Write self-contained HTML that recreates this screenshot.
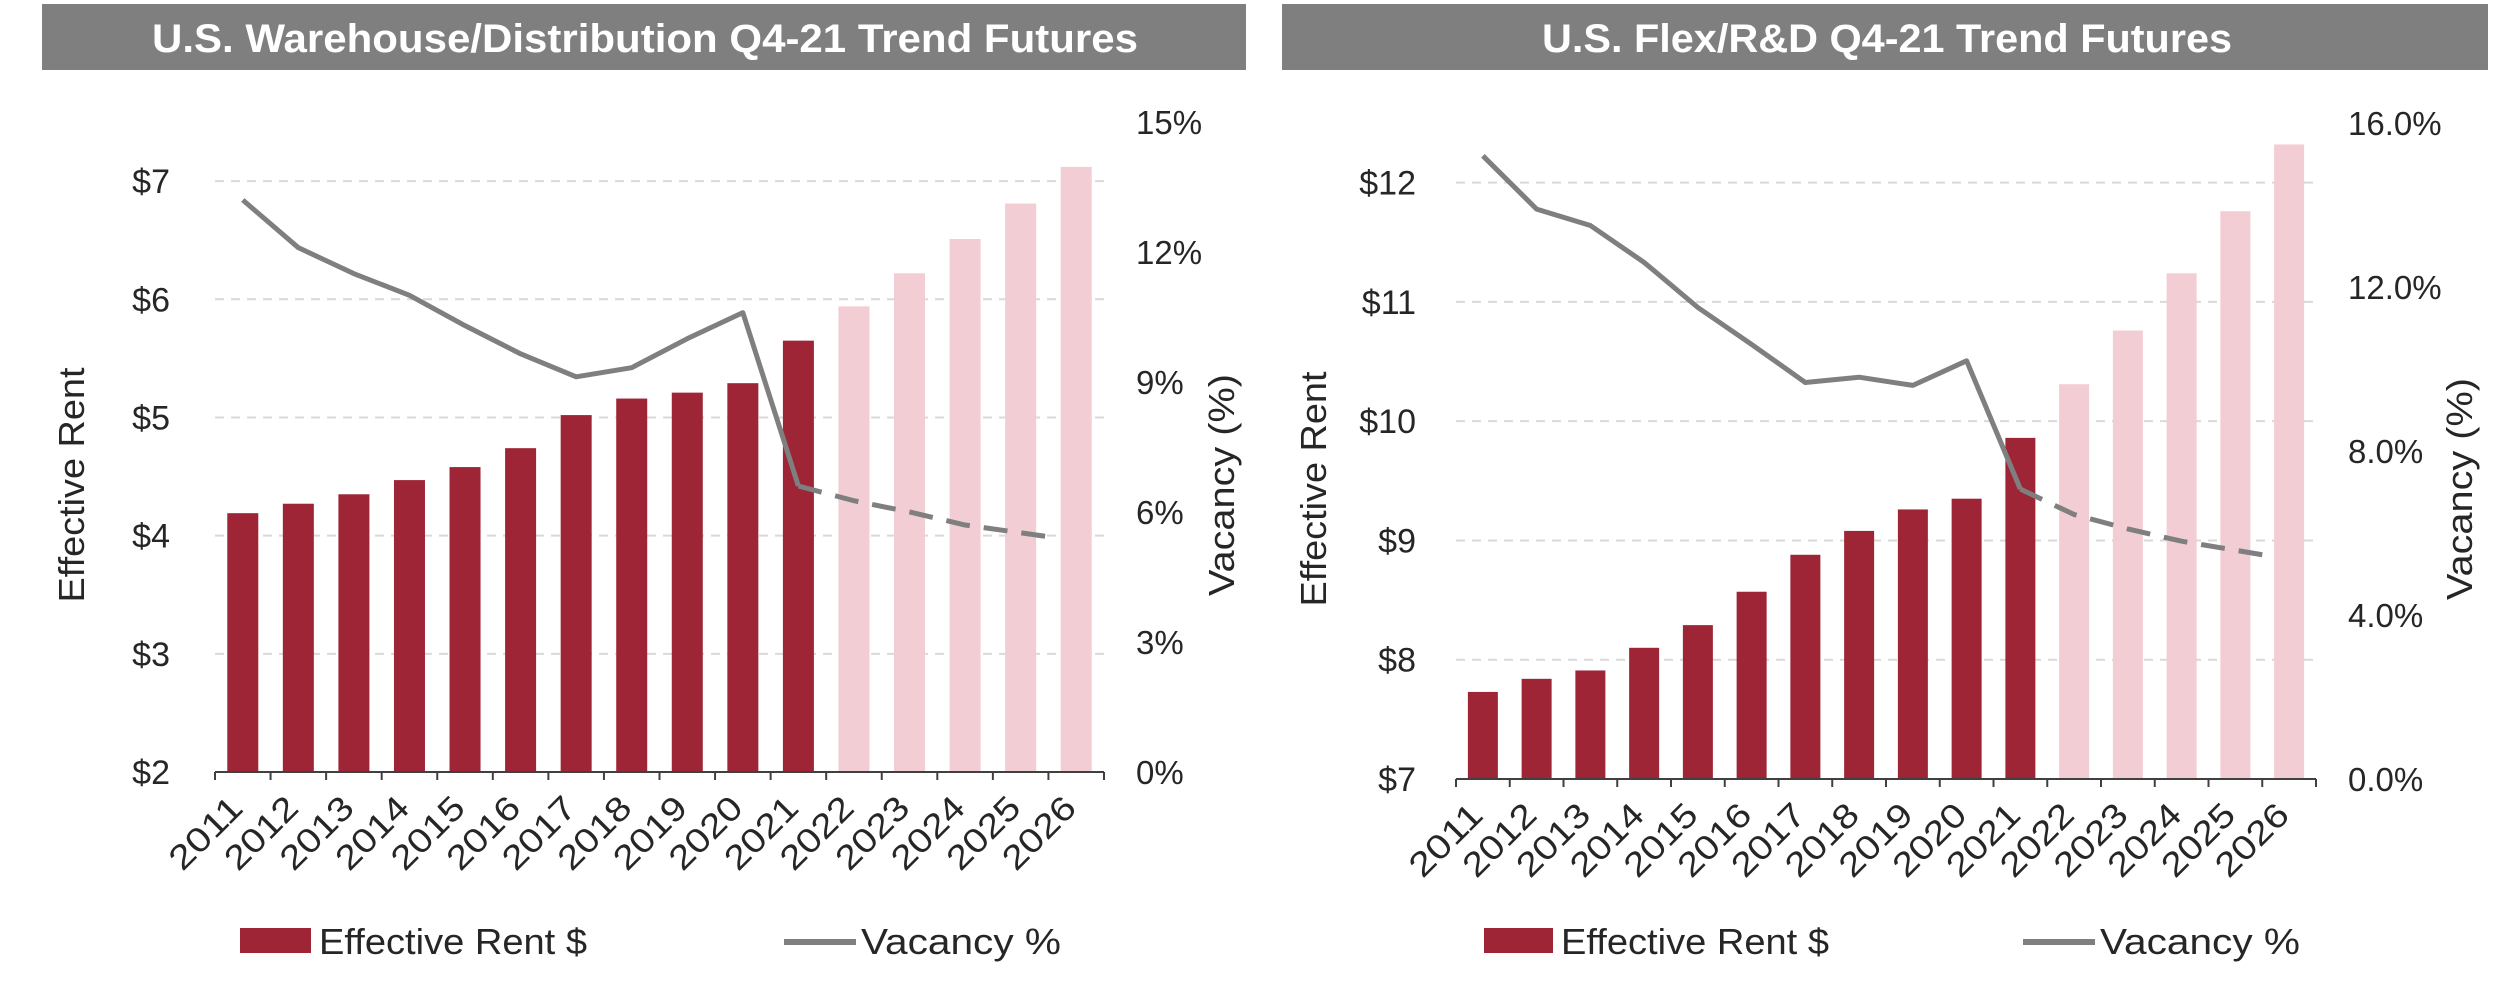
<!DOCTYPE html>
<html><head><meta charset="utf-8"><style>
html,body{margin:0;padding:0;background:#fff;}
svg{display:block;font-family:"Liberation Sans",sans-serif;}
</style></head><body>
<svg id="root" width="2500" height="994" viewBox="0 0 2500 994">
<rect x="42" y="4" width="1204" height="66" fill="#7f7f7f"/>
<text x="645" y="52" text-anchor="middle" font-size="40" font-weight="bold" fill="#fff" textLength="986" lengthAdjust="spacingAndGlyphs">U.S. Warehouse/Distribution Q4-21 Trend Futures</text>
<rect x="1282" y="4" width="1206" height="66" fill="#7f7f7f"/>
<text x="1887" y="52" text-anchor="middle" font-size="40" font-weight="bold" fill="#fff" textLength="690" lengthAdjust="spacingAndGlyphs">U.S. Flex/R&amp;D Q4-21 Trend Futures</text>
<g id="c1"></g>
<g id="c2"></g>
</svg>
<script>
const years = ["2011","2012","2013","2014","2015","2016","2017","2018","2019","2020","2021","2022","2023","2024","2025","2026"];
const whRent = [4.19,4.27,4.35,4.47,4.58,4.74,5.02,5.16,5.21,5.29,5.65,5.94,6.22,6.51,6.81,7.12];
const whVacancy = [13.2,12.1,11.5,11.0,10.3,9.65,9.12,9.33,10.0,10.6,6.6];
const whVacancyForecast = [6.6,6.26,6.0,5.7,5.43];
const whRentTicks = ["$2","$3","$4","$5","$6","$7"];
const whRentTickValues = [2,3,4,5,6,7];
const whVacTicks = ["0%","3%","6%","9%","12%","15%"];
const whVacTickValues = [0,3,6,9,12,15];
const flRent = [7.73,7.84,7.91,8.10,8.29,8.57,8.88,9.08,9.26,9.35,9.86,10.31,10.76,11.24,11.76,12.32];
const flVacancy = [15.2,13.9,13.5,12.6,11.5,10.6,9.67,9.80,9.6,10.2,7.07];
const flVacancyForecast = [7.07,6.45,6.1,5.8,5.47];
const flRentTicks = ["$7","$8","$9","$10","$11","$12"];
const flRentTickValues = [7,8,9,10,11,12];
const flVacTicks = ["0.0%","4.0%","8.0%","12.0%","16.0%"];
const flVacTickValues = [0,4,8,12,16];
const actualCount = 11;

const NS="http://www.w3.org/2000/svg";
function mk(parent,tag,attrs){const e=document.createElementNS(NS,tag);for(const k in attrs)e.setAttribute(k,attrs[k]);parent.appendChild(e);return e;}

function draw(g,cfg){
  const {x0,x1,y0,y1,rMin,rMax,vMax,rent,vac,vacF,rTicks,rTickV,vTicks,vTickV,barW,lblL,lblR,titleL,titleR,leg}=cfg;
  const n=years.length, cw=(x1-x0)/n;
  const xc=i=>x0+(i+0.5)*cw;
  const yR=v=>y0-(v-rMin)/(rMax-rMin)*(y0-y1);
  const yV=v=>y0-v/vMax*(y0-y1);
  rTickV.forEach((v,i)=>{
    if(i>0){const l=mk(g,'line',{x1:x0,x2:x1,y1:yR(v),y2:yR(v),stroke:'#d9d9d9','stroke-width':2,'stroke-dasharray':'9 7'});
    
    }
    const t=mk(g,'text',{x:lblL,y:yR(v)+12,'text-anchor':'end','font-size':34,fill:'#262626'});t.textContent=rTicks[i];
    
    
  });
  vTickV.forEach((v,i)=>{
    const t=mk(g,'text',{x:lblR,y:yV(v)+12,'font-size':33,fill:'#262626'});t.textContent=vTicks[i];
    
    
  });
  rent.forEach((v,i)=>{
    const b=mk(g,'rect',{x:xc(i)-barW/2,y:yR(v),width:barW,height:y0-yR(v),fill:i<actualCount?'#9e2536':'#f2cdd3'});
    
    
  });
  mk(g,'line',{x1:x0,x2:x1,y1:y0,y2:y0,stroke:'#404040','stroke-width':2});
  for(let i=0;i<=n;i++){mk(g,'line',{x1:x0+i*cw,x2:x0+i*cw,y1:y0,y2:y0+8,stroke:'#404040','stroke-width':2});}
  years.forEach((yr,i)=>{
    const x=xc(i)+2,y=y0+38;
    const t=mk(g,'text',{x:x,y:y,'text-anchor':'end','font-size':34,fill:'#262626',textLength:88,lengthAdjust:'spacingAndGlyphs',transform:`rotate(-45 ${x} ${y})`});t.textContent=yr;
    
    
  });
  const p=mk(g,'polyline',{points:vac.map((v,i)=>xc(i)+','+yV(v)).join(' '),fill:'none',stroke:'#7f7f7f','stroke-width':5,'stroke-linejoin':'round'});
  
  
  const s=actualCount-1;
  const pf=mk(g,'polyline',{points:vacF.map((v,i)=>(xc(s+i)+ (i===vacF.length-1?cw/2:0))+','+yV(v)).join(' '),fill:'none',stroke:'#7f7f7f','stroke-width':5,'stroke-dasharray':'24 14'});
  
  
  const cy=(y0+y1)/2+38;
  const a=mk(g,'text',{x:titleL,y:cy,'text-anchor':'middle','font-size':36,fill:'#262626',textLength:235,lengthAdjust:'spacingAndGlyphs',transform:`rotate(-90 ${titleL} ${cy})`});a.textContent='Effective Rent';
  
  
  const b=mk(g,'text',{x:titleR,y:cy,'text-anchor':'middle','font-size':36,fill:'#262626',textLength:222,lengthAdjust:'spacingAndGlyphs',transform:`rotate(-90 ${titleR} ${cy})`});b.textContent='Vacancy (%)';
  
  
  const lg=mk(g,'g',{});
  
  
  mk(lg,'rect',{x:leg[0],y:928,width:leg[2],height:25,fill:'#9e2536'});
  const t1=mk(lg,'text',{x:leg[0]+leg[2]+8,y:954,'font-size':36,fill:'#262626',textLength:268,lengthAdjust:'spacingAndGlyphs'});t1.textContent='Effective Rent $';
  
  
  mk(lg,'line',{x1:leg[1],x2:leg[1]+72,y1:942,y2:942,stroke:'#7f7f7f','stroke-width':6});
  const t2=mk(lg,'text',{x:leg[1]+77,y:954,'font-size':36,fill:'#262626',textLength:200,lengthAdjust:'spacingAndGlyphs'});t2.textContent='Vacancy %';
  
  
}
draw(document.getElementById('c1'),{x0:215,x1:1104,y0:772,y1:122,rMin:2,rMax:7.5,vMax:15,rent:whRent,vac:whVacancy,vacF:whVacancyForecast,rTicks:whRentTicks,rTickV:whRentTickValues,vTicks:whVacTicks,vTickV:whVacTickValues,barW:31,lblL:170,lblR:1136,titleL:84,titleR:1234,leg:[240,784,71]});
draw(document.getElementById('c2'),{x0:1456,x1:2316,y0:779,y1:123,rMin:7,rMax:12.5,vMax:16,rent:flRent,vac:flVacancy,vacF:flVacancyForecast,rTicks:flRentTicks,rTickV:flRentTickValues,vTicks:flVacTicks,vTickV:flVacTickValues,barW:30,lblL:1416,lblR:2348,titleL:1326,titleR:2472,leg:[1484,2023,69]});
</script>
</body></html>
